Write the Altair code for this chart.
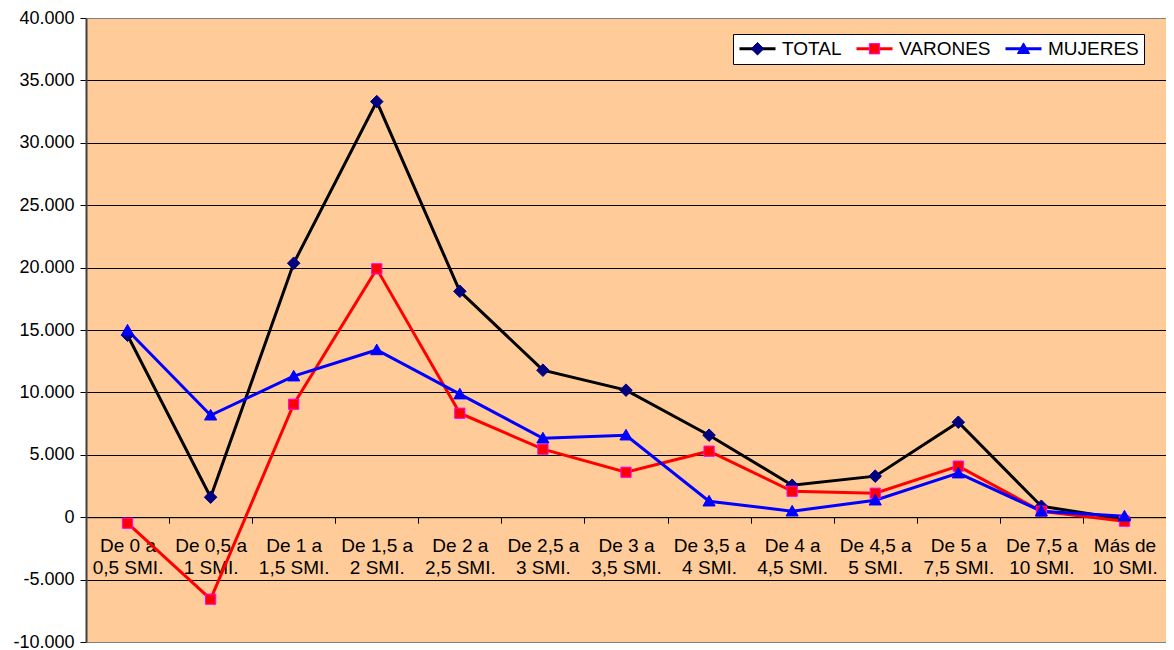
import altair as alt
import pandas as pd

cat_line1 = ["De 0 a", "De 0,5 a", "De 1 a", "De 1,5 a", "De 2 a", "De 2,5 a", "De 3 a",
             "De 3,5 a", "De 4 a", "De 4,5 a", "De 5 a", "De 7,5 a", "Más de"]
cat_line2 = ["0,5 SMI.", "1 SMI.", "1,5 SMI.", "2 SMI.", "2,5 SMI.", "3 SMI.", "3,5 SMI.",
             "4 SMI.", "4,5 SMI.", "5 SMI.", "7,5 SMI.", "10 SMI.", "10 SMI."]
series = ["TOTAL", "VARONES", "MUJERES"]
total = [14580, 1600, 20350, 33300, 18100, 11780, 10180, 6570, 2560, 3290, 7610, 880, -160]
varones = [-480, -6570, 9050, 19900, 8330, 5450, 3600, 5290, 2080, 1920, 4090, 480, -320]
mujeres = [14980, 8170, 11300, 13400, 9860, 6330, 6570, 1280, 480, 1360, 3530, 480, 80]
y_ticks = [-10000, -5000, 0, 5000, 10000, 15000, 20000, 25000, 30000, 35000, 40000]

line_colors = ["#000000", "#FF0000", "#0000FF"]
marker_fill = ["#000080", "#FF0000", "#0000FF"]
marker_stroke = ["#000080", "#FF00FF", "#0000FF"]
marker_shapes = [
    "M0,-0.33L0.33,0L0,0.33L-0.33,0Z",
    "M-0.27,-0.27L0.27,-0.27L0.27,0.27L-0.27,0.27Z",
    "M0,-0.31L0.32,0.25L-0.32,0.25Z",
]

cats = [a + "\n" + b for a, b in zip(cat_line1, cat_line2)]
rows = []
for i, (s, vals) in enumerate(zip(series, [total, varones, mujeres])):
    for c, v in zip(cats, vals):
        rows.append({"cat": c, "serie": s, "idx": i, "valor": v})
df = pd.DataFrame(rows)

FONT = "Liberation Sans"
series_js = "['" + "','".join(series) + "']"

x_enc = alt.X(
    "cat:N",
    sort=cats,
    scale=alt.Scale(type="band", paddingInner=0, paddingOuter=0),
    axis=alt.Axis(
        title=None, orient="bottom", offset=-124.8,
        labelExpr="split(datum.label, '\\n')",
        labelAngle=0, labelAlign="center", labelBaseline="top",
        labelFont=FONT, labelFontSize=19, labelColor="black",
        labelPadding=13, labelLineHeight=22, labelOverlap=False, labelBound=False,
        tickBand="extent", tickSize=6, tickColor="black",
        domainColor="black", domainWidth=1, grid=False,
    ),
)

y_enc = alt.Y(
    "valor:Q",
    scale=alt.Scale(domain=[-10000, 40000], nice=False),
    axis=alt.Axis(
        title=None, values=y_ticks,
        labelExpr="(datum.value < 0 ? '-' : '') + replace(format(abs(datum.value), ','), ',', '.')",
        labelFont=FONT, labelFontSize=18, labelColor="black", labelPadding=6,
        tickSize=6, tickColor="black",
        domainColor="#404040", domainWidth=2,
        grid=True, gridWidth=1,
        gridColor={"condition": {"test": "datum.value == 40000 || datum.value == -10000",
                                 "value": "#808080"}, "value": "#000000"},
    ),
)

common_legend = dict(
    title=None, orient="none", legendX=647, legendY=16, direction="horizontal",
    columns=3, padding=5, labelFont=FONT, labelFontSize=19, labelColor="black",
    labelOffset=5, columnPadding=13, clipHeight=19,
)

lines = alt.Chart(df).mark_line(strokeWidth=3).encode(
    x=x_enc,
    y=y_enc,
    color=alt.Color(
        "serie:N",
        scale=alt.Scale(domain=series, range=line_colors),
        legend=alt.Legend(symbolType="stroke", symbolSize=1296, symbolStrokeWidth=3,
                          fillColor="white", strokeColor="black", zindex=0,
                          **common_legend),
    ),
)

leg2 = alt.Legend(symbolSize=1444, symbolStrokeWidth=1, labelOpacity=0, zindex=1,
                  labelExpr=series_js + "[datum.value]", **common_legend)

idx_dom = [0, 1, 2]
points = alt.Chart(df).mark_point(filled=True, size=1444, strokeWidth=1, opacity=1).encode(
    x=alt.X("cat:N", sort=cats),
    y=alt.Y("valor:Q"),
    fill=alt.Fill("idx:O", scale=alt.Scale(domain=idx_dom, range=marker_fill), legend=leg2),
    stroke=alt.Stroke("idx:O", scale=alt.Scale(domain=idx_dom, range=marker_stroke), legend=leg2),
    shape=alt.Shape("idx:O", scale=alt.Scale(domain=idx_dom, range=marker_shapes), legend=leg2),
)

chart = alt.layer(lines, points).properties(
    width=1080, height=624,
    autosize=alt.AutoSizeParams(type="none"),
    padding={"left": 78, "top": 10, "right": 0, "bottom": 8},
    background="white",
).configure_view(fill="#FFCC99", stroke="transparent")

chart.save("out.html", embed_options={"renderer": "svg", "actions": False})
